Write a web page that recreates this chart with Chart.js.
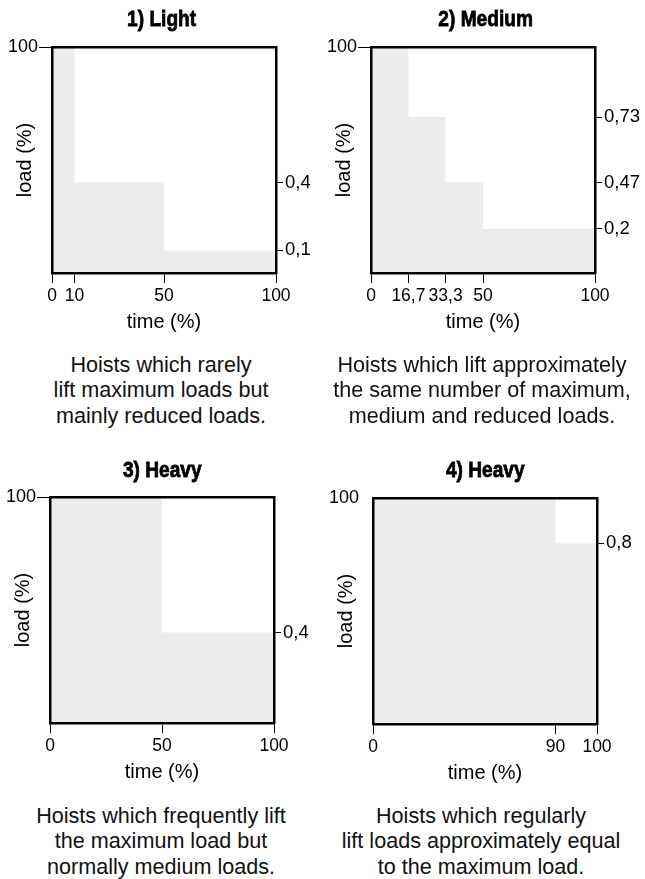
<!DOCTYPE html>
<html>
<head>
<meta charset="utf-8">
<script src="https://cdn.jsdelivr.net/npm/chart.js@4.4.0/dist/chart.umd.min.js"></script>
<style>
  html, body { margin: 0; padding: 0; background: #fff; }
  body { width: 645px; height: 879px; position: relative; overflow: hidden; }
  canvas { position: absolute; }
  .desc { position: absolute; width: 330px; text-align: center; font-family: "Liberation Sans", Arial, sans-serif;
          font-size: 21.6px; line-height: 25.3px; color: #111; white-space: nowrap; }
  .ttl { position: absolute; width: 240px; text-align: center; height: 30px; }
  .ttl span { display: inline-block; font-family: "Liberation Sans", Arial, sans-serif; font-weight: bold;
              font-size: 22.5px; line-height: 24px; color: #000; transform: scaleX(0.85); transform-origin: center;
              -webkit-text-stroke: 0.8px #000; white-space: nowrap; }
</style>
</head>
<body>
<canvas id="c1" width="322" height="335"></canvas>
<canvas id="c2" width="322" height="335"></canvas>
<canvas id="c3" width="322" height="335"></canvas>
<canvas id="c4" width="322" height="335"></canvas>
<div class="ttl" id="t1"></div>
<div class="ttl" id="t2"></div>
<div class="ttl" id="t3"></div>
<div class="ttl" id="t4"></div>
<div class="desc" id="d1"></div>
<div class="desc" id="d2"></div>
<div class="desc" id="d3"></div>
<div class="desc" id="d4"></div>
<script>
// ---- data ----
const panelTitles = ['1) Light', '2) Medium', '3) Heavy', '4) Heavy'];

const p1Time = [0, 10, 50, 100];
const p1Load = [1, 0.4, 0.1, 0.1];
const p1TimeTicks = [0, 10, 50, 100];
const p1TimeLabels = ['0', '10', '50', '100'];
const p1LoadTicks = [0.4, 0.1];
const p1LoadLabels = ['0,4', '0,1'];

const p2Time = [0, 16.7, 33.3, 50, 100];
const p2Load = [1, 0.69, 0.40, 0.195, 0.195];
const p2TimeTicks = [0, 16.7, 33.3, 50, 100];
const p2TimeLabels = ['0', '16,7', '33,3', '50', '100'];
const p2LoadTicks = [0.69, 0.40, 0.195];
const p2LoadLabels = ['0,73', '0,47', '0,2'];

const p3Time = [0, 50, 100];
const p3Load = [1, 0.4, 0.4];
const p3TimeTicks = [0, 50, 100];
const p3TimeLabels = ['0', '50', '100'];
const p3LoadTicks = [0.4];
const p3LoadLabels = ['0,4'];

const p4Time = [0, 81.5, 100];
const p4Load = [1, 0.8, 0.8];
const p4TimeTicks = [0, 81.5, 100];
const p4TimeLabels = ['0', '90', '100'];
const p4LoadTicks = [0.8];
const p4LoadLabels = ['0,8'];

const maxLoadTick = [1];
const maxLoadLabel = ['100'];

const descriptions = [
  ['Hoists which rarely', 'lift maximum loads but', 'mainly reduced loads.'],
  ['Hoists which lift approximately', 'the same number of maximum,', 'medium and reduced loads.'],
  ['Hoists which frequently lift', 'the maximum load but', 'normally medium loads.'],
  ['Hoists which regularly', 'lift loads approximately equal', 'to the maximum load.']
];

// ---- layout (positions only) ----
const layouts = [
  { canvas: [0, 0],    title: [42, 6.5],   desc: [-4, 352], leftTick: true },
  { canvas: [319, 0],  title: [366, 6.5],  desc: [317, 352], leftTick: true },
  { canvas: [-2, 450], title: [42, 457.5], desc: [-4, 803], leftTick: true },
  { canvas: [321, 451], title: [365, 457.5], desc: [316, 803], leftTick: false }
];

const FILL = '#ececec';
const SANS = '"Liberation Sans", Arial, sans-serif';

function tickSetter(vals) {
  return (scale) => { scale.ticks = vals.map(v => ({ value: v })); };
}

function makePanel(idx, time, load, tTicks, tLabels, lTicks, lLabels) {
  const L = layouts[idx];
  const cv = document.getElementById('c' + (idx + 1));
  cv.style.left = L.canvas[0] + 'px';
  cv.style.top = L.canvas[1] + 'px';
  const d = document.getElementById('d' + (idx + 1));
  d.style.left = L.desc[0] + 'px';
  d.style.top = L.desc[1] + 'px';
  d.innerHTML = descriptions[idx].join('<br>');
  const t = document.getElementById('t' + (idx + 1));
  t.style.left = L.title[0] + 'px';
  t.style.top = L.title[1] + 'px';
  const sp = document.createElement('span');
  sp.textContent = panelTitles[idx];
  t.appendChild(sp);

  const pts = time.map((tv, i) => ({ x: tv, y: load[i] }));
  const borderW = 2.5;
  new Chart(cv, {
    type: 'line',
    data: { datasets: [{
      data: pts, stepped: 'before', fill: 'origin', backgroundColor: FILL,
      borderWidth: 0, borderColor: 'rgba(0,0,0,0)', pointRadius: 0
    }]},
    options: {
      responsive: false, animation: false, events: [],
      layout: { padding: 0 },
      plugins: { legend: { display: false }, tooltip: { enabled: false }, title: { display: false } },
      scales: {
        x: {
          type: 'linear', position: 'bottom', min: 0, max: 100,
          afterBuildTicks: tickSetter(tTicks),
          afterFit: (s) => { s.height = 62; },
          ticks: { callback: (v, i) => tLabels[i], autoSkip: false, maxRotation: 0, padding: 3,
                   color: '#000', font: { family: SANS, size: 17.5 } },
          grid: { display: true, drawOnChartArea: false, drawTicks: true, tickLength: 10, tickWidth: 1, tickColor: '#000', z: 1 },
          border: { display: true, width: borderW, color: '#000', z: 2 },
          title: { display: true, text: 'time (%)', color: '#000', font: { family: SANS, size: 20, lineHeight: 1.2 },
                   padding: { top: 0, bottom: 1 } }
        },
        xTop: {
          type: 'linear', position: 'top', min: 0, max: 100,
          afterFit: (s) => { s.height = 47; },
          ticks: { display: false },
          grid: { display: false, drawTicks: false },
          border: { display: true, width: borderW, color: '#000', z: 2 }
        },
        y: {
          type: 'linear', position: 'left', min: 0, max: 1,
          afterBuildTicks: tickSetter(maxLoadTick),
          afterFit: (s) => { s.width = 52; },
          ticks: { callback: (v, i) => maxLoadLabel[i], autoSkip: false, padding: 1,
                   color: '#000', font: { family: SANS, size: 18 } },
          grid: { display: true, drawOnChartArea: false, drawTicks: true, tickLength: 13, tickWidth: 1, z: 1,
                  tickColor: L.leftTick ? '#000' : 'rgba(0,0,0,0)' },
          border: { display: true, width: borderW, color: '#000', z: 2 },
          title: { display: true, text: 'load (%)', color: '#000', font: { family: SANS, size: 20, lineHeight: 1.2 },
                   padding: { top: 13, bottom: 0 } }
        },
        yRight: {
          type: 'linear', position: 'right', min: 0, max: 1,
          afterBuildTicks: tickSetter(lTicks),
          afterFit: (s) => { s.width = 46; },
          ticks: { callback: (v, i) => lLabels[i], autoSkip: false, padding: 2,
                   color: '#000', font: { family: SANS, size: 18.5 } },
          grid: { display: true, drawOnChartArea: false, drawTicks: true, tickLength: 7, tickWidth: 1, tickColor: '#000', z: 1 },
          border: { display: true, width: borderW, color: '#000', z: 2 }
        }
      }
    }
  });
}

makePanel(0, p1Time, p1Load, p1TimeTicks, p1TimeLabels, p1LoadTicks, p1LoadLabels);
makePanel(1, p2Time, p2Load, p2TimeTicks, p2TimeLabels, p2LoadTicks, p2LoadLabels);
makePanel(2, p3Time, p3Load, p3TimeTicks, p3TimeLabels, p3LoadTicks, p3LoadLabels);
makePanel(3, p4Time, p4Load, p4TimeTicks, p4TimeLabels, p4LoadTicks, p4LoadLabels);
</script>
</body>
</html>
